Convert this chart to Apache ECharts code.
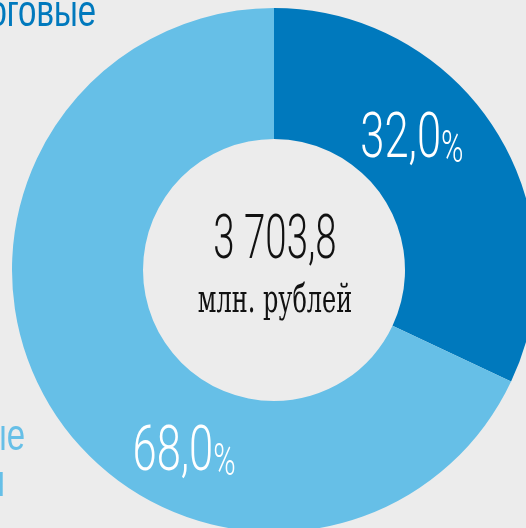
<!DOCTYPE html>
<html style="height: 100%">
<head>
<meta charset="UTF-8">
<title>Доходы</title>
<script src="https://cdn.jsdelivr.net/npm/echarts@6/dist/echarts.min.js"></script>
</head>
<body style="height: 100%;margin: 0;background:#ececec">
<div id="main" style="width:526px;height:528px"></div>
<script type="text/javascript">
// chart data
var categories = ['Налоговые', 'Неналоговые'];
var values = [32.0, 68.0];
var colors = ['#0079bd', '#66bfe7'];
var totalText = '3 703,8';
var unitText = 'млн. рублей';
// where each percent label sits relative to the middle of its slice
var labelOffsets = [[-28, -23], [76, 79]];

var dom = document.getElementById('main');
var myChart = echarts.init(dom);

var seriesData = [];
for (var i = 0; i < values.length; i++) {
	seriesData.push({ name: categories[i], value: values[i], itemStyle: { color: colors[i] } });
}

var graphics = [
	{ type: 'text', x: 275, y: 243, scaleX: 0.63, style: { text: totalText, font: '300 61px Roboto', fill: '#111', align: 'center', verticalAlign: 'middle' } },
	{ type: 'text', x: 275, y: 302, scaleX: 0.6, style: { text: unitText, font: '40px "DejaVu Serif"', fill: '#111', align: 'center', verticalAlign: 'middle' } },
	{ type: 'text', x: 96, y: 14, scaleX: 0.75, style: { text: categories[0], font: '44px "Liberation Sans"', fill: colors[0], align: 'right', verticalAlign: 'middle' } },
	{ type: 'text', x: 25, y: 438, scaleX: 0.75, style: { text: categories[1], font: '44px "Liberation Sans"', fill: colors[1], align: 'right', verticalAlign: 'middle' } },
	{ type: 'text', x: 5, y: 484, scaleX: 0.75, style: { text: 'доходы', font: '44px "Liberation Sans"', fill: colors[1], align: 'right', verticalAlign: 'middle' } }
];

option = {
	backgroundColor: '#ececec',
	animation: false,
	series: [{
		type: 'pie',
		center: [274, 270],
		radius: [131, 262],
		startAngle: 90,
		clockwise: true,
		silent: true,
		label: { show: false },
		labelLine: { show: false },
		data: seriesData
	}],
	graphic: graphics
};

if (option && typeof option === "object") {
	myChart.setOption(option, true);
}

// percent labels: condensed text placed from the pie's own layout
var pieData = myChart.getModel().getSeriesByIndex(0).getData();
var labelGraphics = [];
for (var j = 0; j < values.length; j++) {
	var lay = pieData.getItemLayout(j);
	var mid = (lay.startAngle + lay.endAngle) / 2;
	var rr = (lay.r + lay.r0) / 2;
	labelGraphics.push({
		type: 'text',
		z: 100,
		x: lay.cx + rr * Math.cos(mid) + labelOffsets[j][0],
		y: lay.cy + rr * Math.sin(mid) + labelOffsets[j][1],
		scaleX: 0.69,
		style: {
			text: '{a|' + values[j].toFixed(1).replace('.', ',') + '}{b|%}',
			align: 'center',
			verticalAlign: 'middle',
			rich: {
				a: { fontSize: 63, fontFamily: 'Roboto', fontWeight: 300, fill: '#fff', verticalAlign: 'bottom' },
				b: { fontSize: 44, fontFamily: 'Roboto', fontWeight: 300, fill: '#fff', verticalAlign: 'bottom' }
			}
		}
	});
}
myChart.setOption({ graphic: graphics.concat(labelGraphics) });
</script>
</body>
</html>
